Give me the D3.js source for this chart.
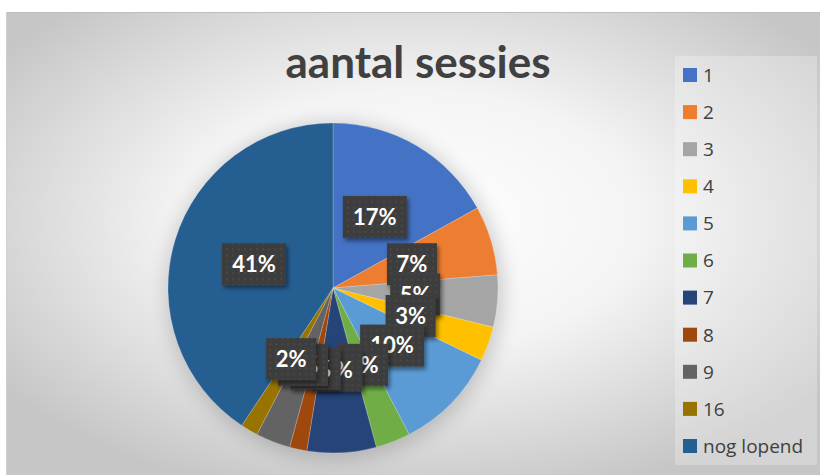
<!DOCTYPE html>
<html lang="nl">
	<head>
		<meta charset="utf-8">
		<title>aantal sessies</title>
		<script type="text/javascript" src="https://cdn.jsdelivr.net/npm/d3@7"></script>
		<style type="text/css">
			body {
				margin: 0;
				background: #ffffff;
			}
		</style>
	</head>
	<body>
		<script type="text/javascript">

			//Categories, counts and colours of the slices
			var categories = ["1", "2", "3", "4", "5", "6", "7", "8", "9", "16", "nog lopend"];
			var counts = [10, 4, 3, 2, 6, 2, 4, 1, 2, 1, 24];
			var colors = ["#4472C4", "#ED7D31", "#A5A5A5", "#FFC000", "#5B9BD5", "#70AD47",
						  "#264478", "#9E480E", "#636363", "#997300", "#255E91"];

			var chartTitle = "aantal sessies";

			//Width and height of SVG canvas
			var w = 820;
			var h = 475;

			//Pie position and radius
			var cx = 333;
			var cy = 288;
			var radius = 165;

			//Legend position
			var legX = 683;
			var legY = 75;
			var legStep = 37.1;

			//Build the dataset from the arrays
			var dataset = categories.map(function(c, i) {
				return { cat: c, count: counts[i], color: colors[i] };
			});
			var total = d3.sum(counts);

			//Create the SVG element for the canvas
			var svg = d3.select("body")
						.append("svg")
						.attr("width", w)
						.attr("height", h);

			var defs = svg.append("defs");

			//Background gradient of the chart area
			var grad = defs.append("radialGradient")
				.attr("id", "bg")
				.attr("cx", "50%")
				.attr("cy", "45%")
				.attr("r", "62%");
			grad.append("stop").attr("offset", "0%").attr("stop-color", "#ffffff");
			grad.append("stop").attr("offset", "45%").attr("stop-color", "#f4f4f4");
			grad.append("stop").attr("offset", "100%").attr("stop-color", "#c6c6c6");

			//Soft shadow for the pie
			var blur = defs.append("filter")
				.attr("id", "pieShadow")
				.attr("x", "-30%").attr("y", "-30%")
				.attr("width", "160%").attr("height", "160%");
			blur.append("feGaussianBlur").attr("stdDeviation", 10);

			//Drop shadow for the data labels
			var drop = defs.append("filter")
				.attr("id", "lblShadow")
				.attr("x", "-20%").attr("y", "-20%")
				.attr("width", "150%").attr("height", "150%");
			drop.append("feDropShadow")
				.attr("dx", 2).attr("dy", 3)
				.attr("stdDeviation", 2)
				.attr("flood-color", "#000")
				.attr("flood-opacity", 0.45);

			//Dotted fill of the data labels
			var pat = defs.append("pattern")
				.attr("id", "dots")
				.attr("width", 6).attr("height", 6)
				.attr("patternUnits", "userSpaceOnUse");
			pat.append("rect").attr("width", 6).attr("height", 6).attr("fill", "#3e3e3e");
			pat.append("circle").attr("cx", 3).attr("cy", 3).attr("r", 1).attr("fill", "#4a4a4a");

			//Chart area
			svg.append("rect")
				.attr("x", 6)
				.attr("y", 12)
				.attr("width", w - 6)
				.attr("height", h - 12)
				.attr("fill", "url(#bg)");

			svg.append("line")
				.attr("x1", 6).attr("x2", w)
				.attr("y1", 12.5).attr("y2", 12.5)
				.attr("stroke", "#bdbdbd");
			svg.append("line")
				.attr("x1", 6.5).attr("x2", 6.5)
				.attr("y1", 12).attr("y2", h)
				.attr("stroke", "#cfcfcf");

			//Title
			svg.append("text")
				.attr("x", 418)
				.attr("y", 78)
				.attr("text-anchor", "middle")
				.attr("font-family", "Lato, 'Open Sans', sans-serif")
				.attr("font-weight", "bold")
				.attr("font-size", "44px")
				.attr("fill", "#404040")
				.text(chartTitle);

			//Pie layout and arc generators
			var pie = d3.pie()
				.sort(null)
				.value(function(d) { return d.count; });

			var arc = d3.arc()
				.innerRadius(0)
				.outerRadius(radius);

			var labelArc = d3.arc()
				.innerRadius(radius * 0.5)
				.outerRadius(radius * 0.5);

			var arcs = pie(dataset);

			var g = svg.append("g")
				.attr("transform", "translate(" + cx + "," + cy + ")");

			//Shadow behind the pie
			g.append("circle")
				.attr("cx", 2)
				.attr("cy", 3)
				.attr("r", radius + 3)
				.attr("fill", "#000")
				.attr("opacity", 0.18)
				.attr("filter", "url(#pieShadow)");

			//Slices
			g.selectAll("path.slice")
				.data(arcs)
				.enter()
				.append("path")
				.attr("class", "slice")
				.attr("d", arc)
				.attr("fill", function(d) { return d.data.color; })
				.attr("stroke", "#ffffff")
				.attr("stroke-opacity", 0.35)
				.attr("stroke-width", 0.6);

			//Data labels, drawn in series order so later ones sit on top
			var lbl = g.selectAll("g.lbl")
				.data(arcs)
				.enter()
				.append("g")
				.attr("class", "lbl")
				.attr("transform", function(d) {
					var c = labelArc.centroid(d);
					return "translate(" + c[0] + "," + c[1] + ")";
				});

			lbl.append("rect")
				.attr("x", function(d) { return pct(d) >= 10 ? -32 : -25; })
				.attr("y", -21)
				.attr("width", function(d) { return pct(d) >= 10 ? 64 : 50; })
				.attr("height", 42)
				.attr("fill", "url(#dots)")
				.attr("filter", "url(#lblShadow)");

			lbl.append("text")
				.attr("text-anchor", "middle")
				.attr("dy", "0.36em")
				.attr("font-family", "Lato, 'Open Sans', sans-serif")
				.attr("font-weight", "bold")
				.attr("font-size", "22px")
				.attr("fill", "#ffffff")
				.text(function(d) { return pct(d) + "%"; });

			function pct(d) {
				return Math.round(d.data.count / total * 100);
			}

			//Legend panel
			svg.append("rect")
				.attr("x", 675)
				.attr("y", 56)
				.attr("width", 142)
				.attr("height", 409)
				.attr("fill", "#ffffff")
				.attr("opacity", 0.25);

			var leg = svg.selectAll("g.leg")
				.data(dataset)
				.enter()
				.append("g")
				.attr("class", "leg")
				.attr("transform", function(d, i) {
					return "translate(" + legX + "," + (legY + i * legStep) + ")";
				});

			leg.append("rect")
				.attr("x", 0)
				.attr("y", -7)
				.attr("width", 14)
				.attr("height", 14)
				.attr("fill", function(d) { return d.color; });

			leg.append("text")
				.attr("x", 20)
				.attr("dy", "0.36em")
				.attr("font-family", "'Open Sans', Lato, sans-serif")
				.attr("font-size", "19px")
				.attr("fill", "#404040")
				.text(function(d) { return d.cat; });

		</script>
	</body>
</html>
